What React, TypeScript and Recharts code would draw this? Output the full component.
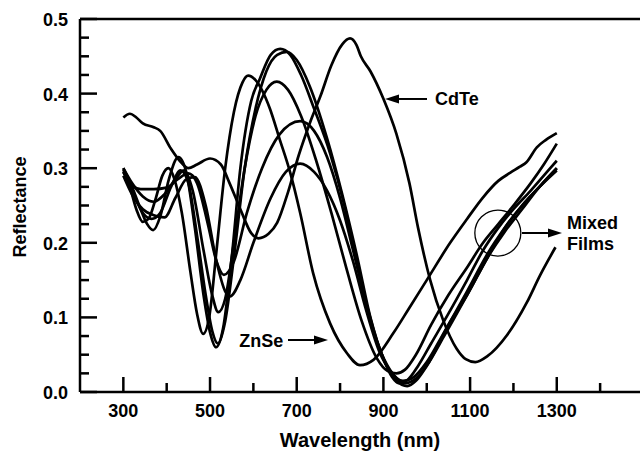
import React from 'react';
import { LineChart, Line, XAxis, YAxis, ReferenceLine, ReferenceDot } from 'recharts';

const FONT = '"Liberation Sans", Arial, Helvetica, sans-serif';

// Axis ticks
const xTicks = [300, 400, 500, 600, 700, 800, 900, 1000, 1100, 1200, 1300, 1400];
const xLabels = [300, 500, 700, 900, 1100, 1300];
const yTicks = [0, 0.025, 0.05, 0.075, 0.1, 0.125, 0.15, 0.175, 0.2, 0.225, 0.25, 0.275, 0.3, 0.325, 0.35, 0.375, 0.4, 0.425, 0.45, 0.475, 0.5];
const yLabels = [0, 0.1, 0.2, 0.3, 0.4, 0.5];

// Series: [wavelength nm, reflectance]
const cdte: [number, number][] = [
  [300, 0.368], [315, 0.373], [330, 0.368], [345, 0.36], [370, 0.355], [385, 0.35], [410, 0.326], [430, 0.31],
  [450, 0.3], [470, 0.305], [500, 0.313], [525, 0.305], [545, 0.28], [570, 0.245], [595, 0.213], [612, 0.206],
  [635, 0.212], [655, 0.227], [680, 0.268], [705, 0.318], [730, 0.36], [755, 0.397], [780, 0.438], [805, 0.466],
  [823, 0.474], [838, 0.465], [848, 0.45], [870, 0.43], [900, 0.393], [930, 0.346], [960, 0.28], [980, 0.22],
  [1008, 0.15], [1038, 0.096], [1069, 0.058], [1090, 0.044], [1112, 0.04], [1140, 0.048], [1185, 0.076],
  [1231, 0.12], [1262, 0.157], [1297, 0.194],
];

const znse: [number, number][] = [
  [300, 0.298], [315, 0.275], [330, 0.245], [345, 0.228], [358, 0.232], [375, 0.26], [390, 0.29], [404, 0.3],
  [418, 0.285], [435, 0.24], [455, 0.16], [470, 0.105], [484, 0.078], [498, 0.1], [515, 0.19], [535, 0.3],
  [555, 0.375], [575, 0.415], [588, 0.424], [605, 0.418], [638, 0.38], [660, 0.34], [685, 0.294], [708, 0.24],
  [738, 0.159], [777, 0.092], [816, 0.052], [846, 0.036], [877, 0.043], [923, 0.079], [960, 0.113], [1000, 0.15],
  [1054, 0.2], [1093, 0.232], [1130, 0.261], [1165, 0.283], [1193, 0.294], [1215, 0.302], [1230, 0.308],
  [1254, 0.328], [1275, 0.338], [1300, 0.347],
];

const mixA: [number, number][] = [
  [300, 0.3], [320, 0.275], [340, 0.245], [355, 0.225], [369, 0.217], [385, 0.235], [405, 0.285], [427, 0.315],
  [445, 0.295], [465, 0.22], [485, 0.13], [500, 0.08], [514, 0.06], [530, 0.085], [550, 0.18], [570, 0.3],
  [595, 0.39], [615, 0.42], [640, 0.452], [662, 0.46], [685, 0.452], [710, 0.425], [740, 0.38], [777, 0.32],
  [810, 0.25], [840, 0.17], [870, 0.095], [900, 0.045], [920, 0.02], [935, 0.012], [955, 0.016], [980, 0.035],
  [1010, 0.065], [1050, 0.105], [1093, 0.15], [1130, 0.19], [1165, 0.22], [1200, 0.245], [1240, 0.27],
  [1270, 0.29], [1300, 0.31],
];

const mixB: [number, number][] = [
  [300, 0.295], [320, 0.27], [345, 0.24], [365, 0.232], [385, 0.24], [410, 0.275], [432, 0.297], [450, 0.28],
  [470, 0.21], [490, 0.13], [505, 0.082], [518, 0.065], [535, 0.095], [555, 0.18], [580, 0.3], [605, 0.38],
  [630, 0.43], [655, 0.452], [677, 0.456], [700, 0.445], [730, 0.41], [770, 0.34], [805, 0.265], [840, 0.18],
  [870, 0.1], [900, 0.045], [930, 0.015], [955, 0.008], [975, 0.015], [1000, 0.035], [1040, 0.075], [1093, 0.13],
  [1140, 0.18], [1180, 0.22], [1220, 0.25], [1260, 0.275], [1300, 0.3],
];

const mixC: [number, number][] = [
  [300, 0.3], [320, 0.28], [345, 0.262], [370, 0.255], [395, 0.265], [420, 0.285], [440, 0.297], [460, 0.27],
  [485, 0.19], [505, 0.13], [519, 0.107], [535, 0.125], [555, 0.2], [580, 0.3], [605, 0.37], [630, 0.405],
  [654, 0.416], [680, 0.405], [710, 0.37], [745, 0.31], [780, 0.24], [815, 0.165], [850, 0.095], [885, 0.045],
  [910, 0.028], [930, 0.025], [950, 0.03], [975, 0.05], [1010, 0.09], [1050, 0.13], [1093, 0.167], [1130, 0.2],
  [1165, 0.225], [1200, 0.25], [1240, 0.28], [1270, 0.305], [1300, 0.333],
];

const mixD: [number, number][] = [
  [300, 0.295], [320, 0.277], [340, 0.272], [370, 0.272], [400, 0.274], [425, 0.285], [450, 0.293], [470, 0.28],
  [495, 0.225], [515, 0.175], [532, 0.157], [555, 0.175], [585, 0.24], [620, 0.3], [660, 0.345], [708, 0.363],
  [740, 0.35], [770, 0.315], [800, 0.26], [830, 0.19], [860, 0.12], [890, 0.06], [915, 0.03], [945, 0.015],
  [970, 0.02], [1000, 0.04], [1040, 0.08], [1093, 0.135], [1140, 0.185], [1180, 0.22], [1220, 0.25],
  [1260, 0.275], [1300, 0.297],
];

const mixE: [number, number][] = [
  [300, 0.29], [320, 0.265], [345, 0.245], [370, 0.237], [395, 0.234], [420, 0.26], [445, 0.285], [465, 0.288],
  [490, 0.25], [515, 0.175], [535, 0.135], [546, 0.128], [570, 0.15], [600, 0.2], [640, 0.26], [675, 0.295],
  [708, 0.306], [740, 0.295], [770, 0.27], [800, 0.23], [830, 0.175], [860, 0.11], [890, 0.055], [920, 0.025],
  [950, 0.012], [975, 0.018], [1005, 0.04], [1050, 0.09], [1093, 0.13], [1140, 0.18], [1180, 0.215],
  [1220, 0.245], [1260, 0.275], [1300, 0.3],
];

const seriesList = [
  { key: 'cdte', data: cdte },
  { key: 'znse', data: znse },
  { key: 'mixA', data: mixA },
  { key: 'mixB', data: mixB },
  { key: 'mixC', data: mixC },
  { key: 'mixD', data: mixD },
  { key: 'mixE', data: mixE },
];

const toPoints = (arr: [number, number][]) => arr.map(([wl, r]) => ({ wl, r }));

const XTick = (props: any) => {
  const { x, y, payload } = props;
  const v = payload.value;
  const major = xLabels.includes(v);
  return (
    <g>
      <line x1={x} x2={x} y1={y} y2={y - (major ? 15 : 9)} stroke="#000" strokeWidth={2.5} />
      {major && (
        <text x={x} y={y + 25} textAnchor="middle" fontFamily={FONT} fontWeight="bold" fontSize={18} fill="#000">
          {v}
        </text>
      )}
    </g>
  );
};

const YTick = (props: any) => {
  const { x, y, payload } = props;
  const v = payload.value;
  const major = yLabels.some((l) => Math.abs(l - v) < 1e-9);
  return (
    <g>
      <line x1={x} x2={x + (major ? 17 : 9)} y1={y} y2={y} stroke="#000" strokeWidth={2.5} />
      {major && (
        <text x={x - 12} y={y + 7} textAnchor="end" fontFamily={FONT} fontWeight="bold" fontSize={18} fill="#000">
          {v.toFixed(1)}
        </text>
      )}
    </g>
  );
};

const Arrow = (props: any) => {
  const { x1, y1, x2, y2 } = props;
  const dx = x2 - x1;
  const dy = y2 - y1;
  const len = Math.sqrt(dx * dx + dy * dy) || 1;
  const ux = dx / len;
  const uy = dy / len;
  const hl = 14;
  const hw = 4.5;
  const bx = x2 - ux * hl;
  const by = y2 - uy * hl;
  return (
    <g>
      <line x1={x1} y1={y1} x2={bx} y2={by} stroke="#000" strokeWidth={2} />
      <polygon
        points={`${x2},${y2} ${bx - uy * hw},${by + ux * hw} ${bx + uy * hw},${by - ux * hw}`}
        fill="#000"
      />
    </g>
  );
};

const makeText = (lines: string[], anchor: 'start' | 'end', dy: number, lineGap: number) => (props: any) => {
  const { cx, cy } = props;
  return (
    <text x={cx} y={cy + dy} textAnchor={anchor} fontFamily={FONT} fontWeight="bold" fontSize={18} fill="#000">
      {lines.map((l, i) => (
        <tspan key={i} x={cx} dy={i === 0 ? 0 : lineGap}>
          {l}
        </tspan>
      ))}
    </text>
  );
};

const XTitle = () => (
  <text x={360} y={447} textAnchor="middle" fontFamily={FONT} fontWeight="bold" fontSize={20} fill="#000">
    Wavelength (nm)
  </text>
);

const YTitle = () => (
  <text
    x={26}
    y={207}
    transform="rotate(-90 26 207)"
    textAnchor="middle"
    fontFamily={FONT}
    fontWeight="bold"
    fontSize={18}
    fill="#000"
  >
    Reflectance
  </text>
);

export default function App() {
  return (
    <div style={{ position: 'absolute', left: 0, top: 0, width: 640, height: 451, background: '#fff' }}>
      <LineChart width={640} height={451} margin={{ top: 19, right: 0, bottom: 0, left: 10 }}>
        <XAxis
          dataKey="wl"
          type="number"
          domain={[200, 1492]}
          ticks={xTicks}
          interval={0}
          allowDataOverflow
          tickSize={0}
          tickMargin={0}
          tick={<XTick />}
          axisLine={{ stroke: '#000', strokeWidth: 2.5 }}
          height={59}
          label={<XTitle />}
        />
        <YAxis
          type="number"
          domain={[0, 0.5]}
          ticks={yTicks}
          interval={0}
          allowDataOverflow
          tickSize={0}
          tickMargin={0}
          tick={<YTick />}
          axisLine={{ stroke: '#000', strokeWidth: 2.5 }}
          width={70}
          label={<YTitle />}
        />
        <ReferenceLine y={0.5} stroke="#000" strokeWidth={2.5} />
        {seriesList.map((s) => (
          <Line
            key={s.key}
            data={toPoints(s.data)}
            dataKey="r"
            type="monotone"
            stroke="#000"
            strokeWidth={2.7}
            dot={false}
            activeDot={false}
            isAnimationActive={false}
          />
        ))}
        <ReferenceLine segment={[{ x: 1000.6, y: 0.3928 }, { x: 903.7, y: 0.3928 }]} shape={<Arrow />} />
        <ReferenceDot x={1019} y={0.3928} r={0} shape={makeText(['CdTe'], 'start', 6.5, 0)} />
        <ReferenceLine segment={[{ x: 679.9, y: 0.0697 }, { x: 772.2, y: 0.0697 }]} shape={<Arrow />} />
        <ReferenceDot x={668.8} y={0.0697} r={0} shape={makeText(['ZnSe'], 'end', 7, 0)} />
        <ReferenceDot x={1164} y={0.2131} r={23} fill="none" stroke="#000" strokeWidth={1.3} />
        <ReferenceLine segment={[{ x: 1219.7, y: 0.2131 }, { x: 1312, y: 0.2131 }]} shape={<Arrow />} />
        <ReferenceDot x={1323.6} y={0.2131} r={0} shape={makeText(['Mixed', 'Films'], 'start', -4.5, 21.5)} />
      </LineChart>
    </div>
  );
}
